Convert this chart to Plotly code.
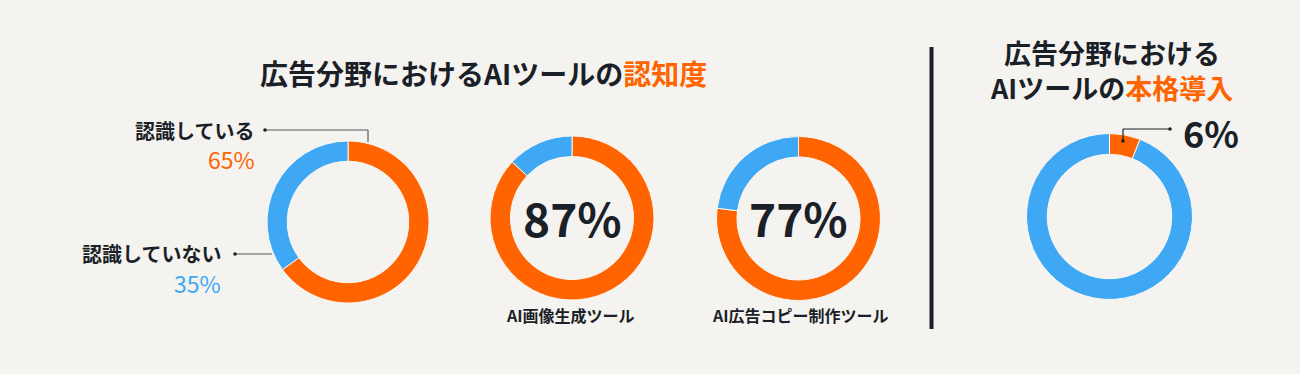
import plotly.graph_objects as go

W, H = 1300, 374
BG = "#f4f3ef"
ORANGE = "#ff6400"
BLUE = "#3ea8f5"
DARK = "#1b1f27"
GRAY = "#555a60"
FONT = "Noto Sans CJK JP"

# Data
aware_labels = ["認識している", "認識していない"]
aware_values = [65, 35]
image_tool_labels = ["認識している", "認識していない"]
image_tool_values = [87, 13]
copy_tool_labels = ["認識している", "認識していない"]
copy_tool_values = [77, 23]
adopt_labels = ["本格導入", "その他"]
adopt_values = [6, 94]
tool_names = ["AI画像生成ツール", "AI広告コピー制作ツール"]


def X(px):
    return px / W


def Y(py):
    return 1 - py / H


def dom(cx, cy, r):
    return dict(x=[X(cx - r), X(cx + r)], y=[Y(cy + r), Y(cy - r)])


fig = go.Figure()

pies = [
    (aware_labels, aware_values, (348, 222, 81)),
    (image_tool_labels, image_tool_values, (572, 218, 82)),
    (copy_tool_labels, copy_tool_values, (798.5, 218.5, 82)),
    (adopt_labels, adopt_values, (1109.5, 216.5, 83)),
]
for labels, values, (cx, cy, r) in pies:
    fig.add_trace(go.Pie(
        labels=labels, values=values, hole=0.75, sort=False,
        direction="clockwise", rotation=0, textinfo="none",
        hoverinfo="label+percent", showlegend=False,
        marker=dict(colors=[ORANGE, BLUE], line=dict(color="#f8f7f4", width=1)),
        domain=dom(cx, cy, r),
    ))

ann = []


def text(px, py, s, size, color=DARK, xanchor="center", bold=True):
    ann.append(dict(
        x=X(px), y=Y(py), xref="paper", yref="paper", showarrow=False,
        text=(f"<b>{s}</b>" if bold else s), xanchor=xanchor, yanchor="middle",
        font=dict(family=FONT, size=size, color=color),
    ))


# Titles
text(483, 73, f"広告分野におけるAIツールの<span style='color:{ORANGE}'>認知度</span>", 28)
text(1111, 70, f"広告分野における<br>AIツールの<span style='color:{ORANGE}'>本格導入</span>", 27)

# Donut 1 labels
text(256, 130, aware_labels[0], 20, xanchor="right")
text(257, 159, f"{aware_values[0]}%", 23, color=ORANGE, xanchor="right", bold=False)
text(223, 253, aware_labels[1], 20, xanchor="right")
text(223, 283, f"{aware_values[1]}%", 23, color=BLUE, xanchor="right", bold=False)

# Center percents
text(572, 217, f"{image_tool_values[0]}%", 46)
text(798.5, 217, f"{copy_tool_values[0]}%", 46)
text(570, 315, tool_names[0], 16)
text(800, 315, tool_names[1], 16)

# 6%
text(1181, 132, f"{adopt_values[0]}%", 36, xanchor="left")

fig.update_layout(annotations=ann)

shapes = []
line = dict(color=GRAY, width=1.2)
# leader 1
shapes.append(dict(type="line", xref="paper", yref="paper", x0=X(265), y0=Y(130), x1=X(368), y1=Y(130), line=line))
shapes.append(dict(type="line", xref="paper", yref="paper", x0=X(368), y0=Y(130), x1=X(368), y1=Y(142), line=line))
# leader 2
shapes.append(dict(type="line", xref="paper", yref="paper", x0=X(235), y0=Y(254), x1=X(272), y1=Y(254), line=line))
# leader 6%
shapes.append(dict(type="line", xref="paper", yref="paper", x0=X(1123), y0=Y(141), x1=X(1123), y1=Y(129), line=dict(color=DARK, width=1.2)))
shapes.append(dict(type="line", xref="paper", yref="paper", x0=X(1123), y0=Y(129), x1=X(1170), y1=Y(129), line=dict(color=DARK, width=1.2)))
# dots
for (dx, dy, c) in [(265, 130, DARK), (235, 254, DARK), (1123, 141, DARK), (1170, 129, DARK)]:
    shapes.append(dict(type="circle", xref="paper", yref="paper",
                       x0=X(dx - 1.8), x1=X(dx + 1.8), y0=Y(dy + 1.8), y1=Y(dy - 1.8),
                       fillcolor=c, line=dict(width=0)))
# divider
shapes.append(dict(type="line", xref="paper", yref="paper", x0=X(931.5), y0=Y(47), x1=X(931.5), y1=Y(329),
                   line=dict(color=DARK, width=4)))

fig.update_layout(
    shapes=shapes,
    width=W, height=H, autosize=False,
    margin=dict(l=0, r=0, t=0, b=0),
    paper_bgcolor=BG, plot_bgcolor=BG,
    font=dict(family=FONT, color=DARK),
)

fig.write_html(
    "out.html",
    config={"displayModeBar": False},
    post_script="document.body.style.margin='0';document.body.style.background='%s';" % BG,
)
